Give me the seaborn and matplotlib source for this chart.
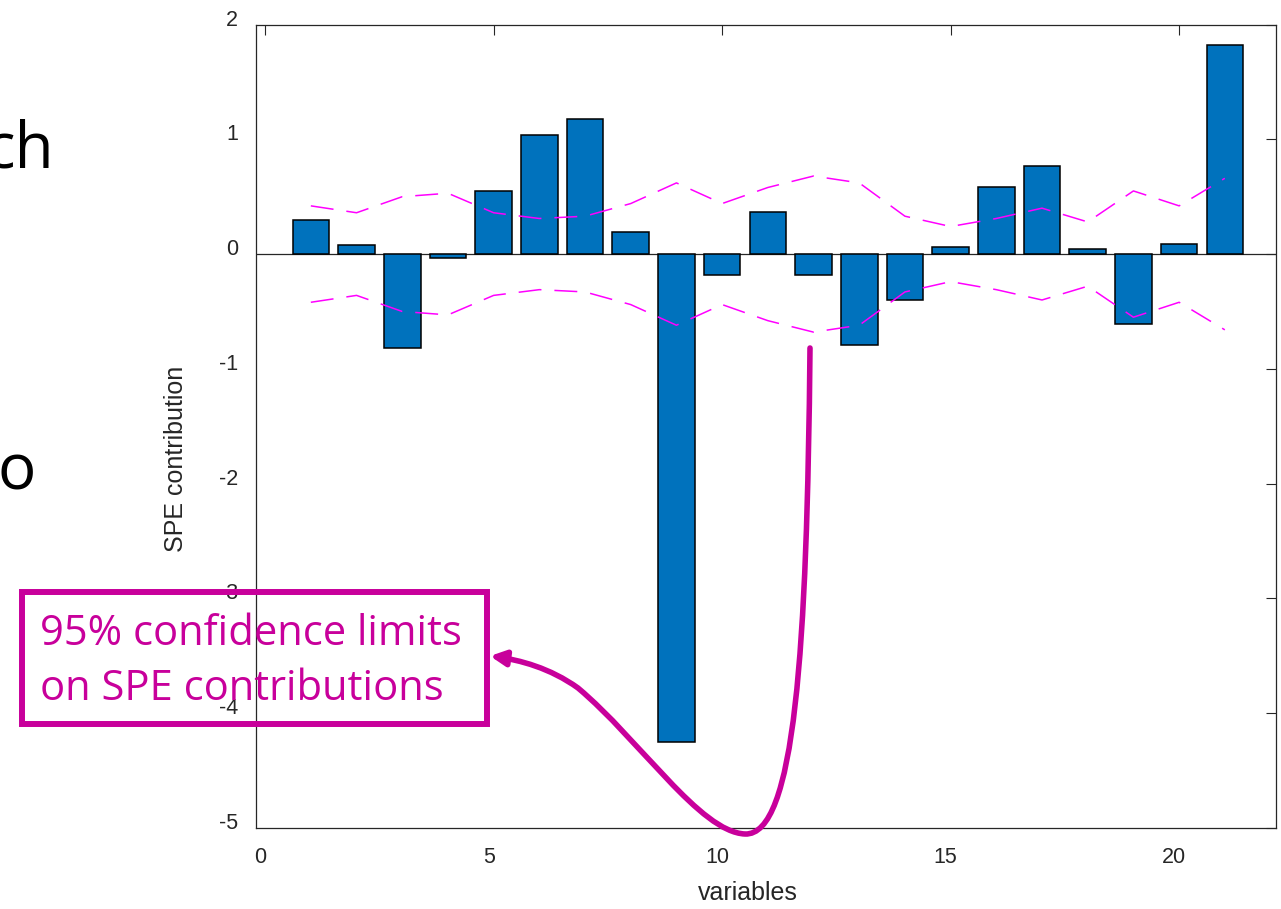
import numpy as np
import pandas as pd
import matplotlib
matplotlib.use("Agg")
import matplotlib.pyplot as plt
import matplotlib.transforms as mtransforms
from matplotlib.path import Path
from matplotlib.patches import FancyArrowPatch, Rectangle
import seaborn as sns

# SPE contribution of each process variable
variables = list(range(1, 22))
contribution = [0.30, 0.08, -0.82, -0.03, 0.55, 1.04, 1.18, 0.19, -4.25, -0.18,
                0.37, -0.18, -0.79, -0.40, 0.06, 0.58, 0.77, 0.04, -0.61, 0.09, 1.82]
# 95% confidence limit (symmetric about zero)
limit = [0.42, 0.36, 0.50, 0.53, 0.36, 0.31, 0.33, 0.44, 0.62, 0.44, 0.58,
         0.68, 0.62, 0.33, 0.24, 0.31, 0.40, 0.28, 0.55, 0.42, 0.66]

x_ticks = [0, 5, 10, 15, 20]
y_ticks = [-5, -4, -3, -2, -1, 0, 1, 2]

W, H = 1281, 909
sns.set_style("white")
plt.rcParams["font.family"] = ["Liberation Sans", "DejaVu Sans"]

fig = plt.figure(figsize=(W / 100, H / 100), dpi=100)
ax = fig.add_axes([256 / W, 1 - 828 / H, (1276 - 256) / W, (828 - 24.5) / H])

df = pd.DataFrame({"variable": variables, "contribution": contribution,
                   "upper": limit, "lower": [-v for v in limit]})

ax.axhline(0, color="#262626", lw=0.9, zorder=1)
sns.barplot(data=df, x="variable", y="contribution", native_scale=True,
            width=0.8, color="#0072BD", saturation=1, edgecolor="black",
            linewidth=1.1, errorbar=None, ax=ax, zorder=2)
for col in ["upper", "lower"]:
    sns.lineplot(data=df, x="variable", y=col, color="#FF00FF", linewidth=1.1,
                 linestyle=(0, (15, 8.5)), ax=ax, zorder=3)

ax.set_xlim(-0.2, 22.12)
ax.set_ylim(-5, 2)
ax.set_xticks(x_ticks)
ax.set_yticks(y_ticks)
ax.set_xticklabels([str(v) for v in x_ticks])
ax.set_yticklabels([str(v) for v in y_ticks])
ax.tick_params(direction="in", length=7.5, width=0.8, color="#262626",
               top=True, right=True, labelsize=15.5, labelcolor="#262626")
ax.tick_params(axis="x", pad=14)
ax.tick_params(axis="y", pad=13)
for s in ax.spines.values():
    s.set_visible(True)
    s.set_color("#262626")
    s.set_linewidth(0.9)

# small offsets of tick labels
ydpi = fig.dpi_scale_trans
for lbl in ax.get_yticklabels():
    lbl.set_transform(lbl.get_transform() + mtransforms.ScaledTranslation(0, 7 / 100, ydpi))
for lbl in ax.get_xticklabels():
    lbl.set_transform(lbl.get_transform() + mtransforms.ScaledTranslation(-5 / 100, 0, ydpi))

ax.set_xlabel("variables", fontsize=18, color="#262626")
ax.set_ylabel("SPE contribution", fontsize=18, color="#262626")
ax.xaxis.set_label_coords((748 - 256) / 1020, (828 - 881) / 803.5)
ax.yaxis.set_label_coords((188 - 256) / 1020, (828 - 459) / 803.5)

# pixel-based transform for the callout (y measured downward)
px = mtransforms.Affine2D().scale(1 / W, -1 / H).translate(0, 1) + fig.transFigure

mag = "#C8009B"
fig.add_artist(Rectangle((22, 592), 487 - 22, 724 - 592, fill=False,
                         edgecolor=mag, linewidth=4.3, transform=px, zorder=5))
fig.text(40, 645, "95% confidence limits", transform=px, color=mag,
         fontsize=30, family=["Open Sans", "DejaVu Sans"], va="baseline", zorder=6)
fig.text(40, 700, "on SPE contributions", transform=px, color=mag,
         fontsize=30, family=["Open Sans", "DejaVu Sans"], va="baseline", zorder=6)

verts = [(810, 348), (807, 650), (795, 836), (745, 834),
         (700, 832), (640, 740), (578, 688),
         (550, 668), (520, 660), (490, 656)]
codes = [Path.MOVETO] + [Path.CURVE4] * 9
fig.add_artist(FancyArrowPatch(path=Path(verts, codes), transform=px,
                               arrowstyle="-|>,head_length=9,head_width=4.5",
                               color=mag, linewidth=4, zorder=5))

# fragments of surrounding slide text
fig.text(54, 167, "ch", transform=px, color="black", fontsize=46,
         family=["Open Sans", "DejaVu Sans"], ha="right", va="baseline")
fig.text(36, 490, "o", transform=px, color="black", fontsize=46,
         family=["Open Sans", "DejaVu Sans"], ha="right", va="baseline")

fig.savefig("out.png", dpi=100)
